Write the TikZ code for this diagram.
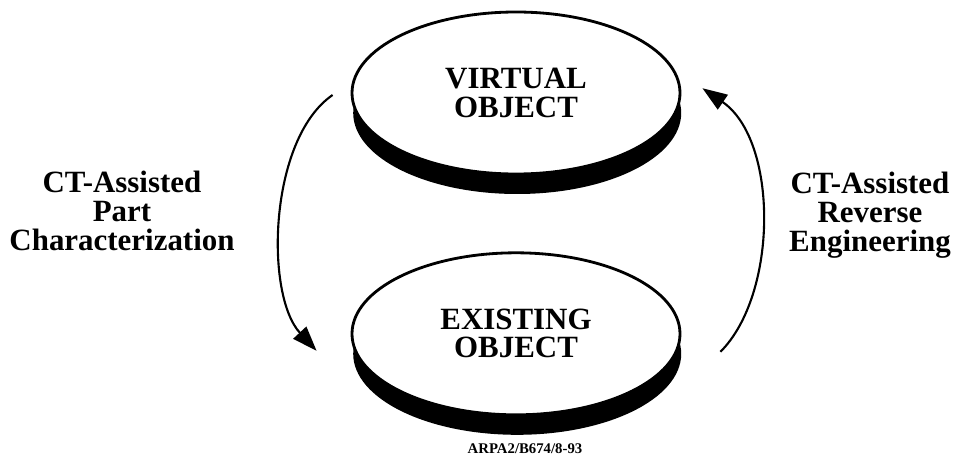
\documentclass[tikz,border=0pt]{standalone}
\usepackage{fontspec}
\setmainfont{Liberation Serif}
\usepackage{tikz}
\usetikzlibrary{arrows.meta}
\usetikzlibrary{positioning}
\usetikzlibrary{shapes.geometric}
\usetikzlibrary{shadows}
\tikzset{>={Triangle[length=0.62cm,width=0.44cm]}}
\tikzset{
  disk/.style={ellipse, draw, line width=2pt, fill=white, inner sep=0pt,
    minimum width=8.2cm, minimum height=4.05cm, align=center,
    font=\fontsize{22pt}{20pt}\selectfont\bfseries,
    drop shadow={shadow xshift=0.03cm, shadow yshift=-0.5cm, opacity=1, fill=black}},
  side/.style={align=center, font=\fontsize{22pt}{20.5pt}\selectfont\bfseries}
}

\begin{document}
\begin{tikzpicture}[node distance=1.9cm, line width=1.5pt]
            \useasboundingbox (0,0) rectangle (23.875,11.425);
            \node [disk] (Vobj) at (12.9,9.1) {VIRTUAL\\OBJECT};
            \node [disk, below=of Vobj] (Eobj) {EXISTING\\OBJECT};
            \node [side] (Pchar) at (3.05,6.15) {CT-Assisted\\Part\\Characterization};
            \node [side] (Reng) at (21.75,6.05) {CT-Assisted\\Reverse\\Engineering};
            \node [font=\fontsize{10.5pt}{12pt}\selectfont\bfseries] (Tag) at (13.125,0.2) {ARPA2/B674/8-93};
            \coordinate (Pstart) at ([shift={(-0.45,-0.05)}]Vobj.west);
            \coordinate (Pend) at ([shift={(-0.85,-0.425)}]Eobj.west);
            \coordinate (Rstart) at ([shift={(0.975,-0.45)}]Eobj.east);
            \coordinate (Rend) at ([shift={(0.525,0.12)}]Vobj.east);
            \draw [->] (Pstart) .. controls +(-1.6,-1.1) and +(-1.3,1.4) .. (Pend);
            \draw [->] (Rstart) .. controls +(1.45,1.45) and +(1.9,-1.3) .. (Rend);
        \end{tikzpicture}
\end{document}
